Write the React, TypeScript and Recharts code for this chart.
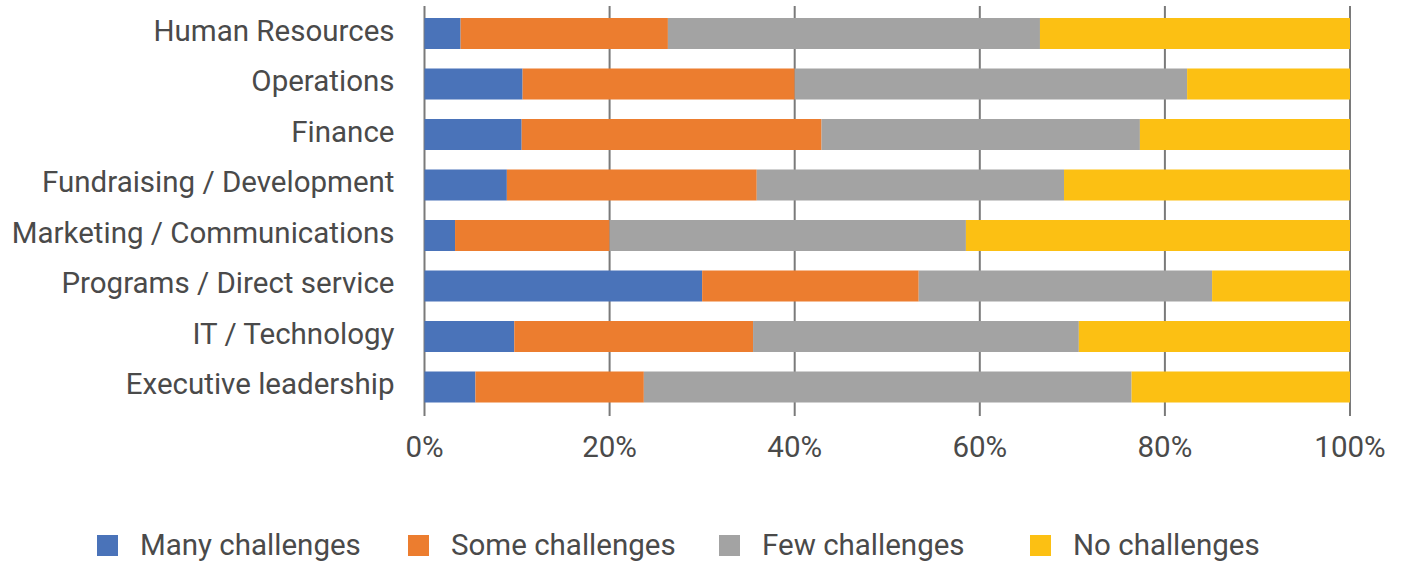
import React from "react";
import { BarChart, Bar, XAxis, YAxis, CartesianGrid, Legend } from "recharts";

// Departments, listed top to bottom
const departments = [
  "Human Resources",
  "Operations",
  "Finance",
  "Fundraising / Development",
  "Marketing / Communications",
  "Programs / Direct service",
  "IT / Technology",
  "Executive leadership",
];

// Share of respondents (%) per department
const manyChallenges = [3.9, 10.6, 10.5, 8.9, 3.3, 30.0, 9.7, 5.5];
const someChallenges = [22.4, 29.4, 32.4, 27.0, 16.7, 23.4, 25.8, 18.2];
const fewChallenges = [40.2, 42.4, 34.4, 33.2, 38.5, 31.7, 35.2, 52.7];
const noChallenges = [33.5, 17.6, 22.7, 30.9, 41.5, 14.9, 29.3, 23.6];

const xTicks = [0, 20, 40, 60, 80, 100];

const series = [
  { key: "many", name: "Many challenges", color: "#4A73B9", values: manyChallenges },
  { key: "some", name: "Some challenges", color: "#EC7D2F", values: someChallenges },
  { key: "few", name: "Few challenges", color: "#A3A3A3", values: fewChallenges },
  { key: "none", name: "No challenges", color: "#FCC013", values: noChallenges },
];

const rows = departments.map((dept, i) => {
  const row: Record<string, string | number> = { dept };
  series.forEach((s) => {
    row[s.key] = s.values[i];
  });
  return row;
});

const FONT = "Roboto, 'Noto Sans', sans-serif";
const TEXT = "#4a4a4a";
const FONT_SIZE = 29.5;

const LegendContent = () => (
  <div style={{ display: "flex", paddingLeft: 97, fontFamily: FONT }}>
    {series.map((s) => (
      <div key={s.key} style={{ width: 311, display: "flex", alignItems: "center" }}>
        <span style={{ width: 21, height: 21, background: s.color, display: "inline-block" }} />
        <span style={{ marginLeft: 22, fontSize: FONT_SIZE, color: TEXT, lineHeight: "30px" }}>{s.name}</span>
      </div>
    ))}
  </div>
);

export default function App() {
  return (
    <div style={{ position: "absolute", left: 0, top: 0, background: "#fff" }}>
      <BarChart
        width={1405}
        height={564}
        data={rows}
        layout="vertical"
        margin={{ top: 6, right: 55, bottom: 88, left: 0 }}
        barCategoryGap={0}
        barSize={31}
      >
        <CartesianGrid horizontal={false} vertical stroke="#7a7a7a" strokeWidth={2} />
        <XAxis
          type="number"
          domain={[0, 100]}
          ticks={xTicks}
          tickFormatter={(v) => `${v}%`}
          axisLine={false}
          tickLine={false}
          tickSize={0}
          tickMargin={20}
          height={60}
          interval={0}
          tick={{ fontSize: FONT_SIZE, fill: TEXT, fontFamily: FONT }}
        />
        <YAxis
          type="category"
          dataKey="dept"
          width={424.5}
          axisLine={false}
          tickLine={false}
          tickSize={0}
          tickMargin={30}
          padding={{ top: 2, bottom: 4 }}
          interval={0}
          tick={{ fontSize: FONT_SIZE, fill: TEXT, fontFamily: FONT, dy: -3 }}
        />
        {series.map((s) => (
          <Bar
            key={s.key}
            dataKey={s.key}
            name={s.name}
            stackId="a"
            fill={s.color}
            isAnimationActive={false}
          />
        ))}
        <Legend
          layout="horizontal"
          verticalAlign="middle"
          align="center"
          content={<LegendContent />}
          wrapperStyle={{ top: 530, left: 0, width: 1405 }}
        />
      </BarChart>
    </div>
  );
}
